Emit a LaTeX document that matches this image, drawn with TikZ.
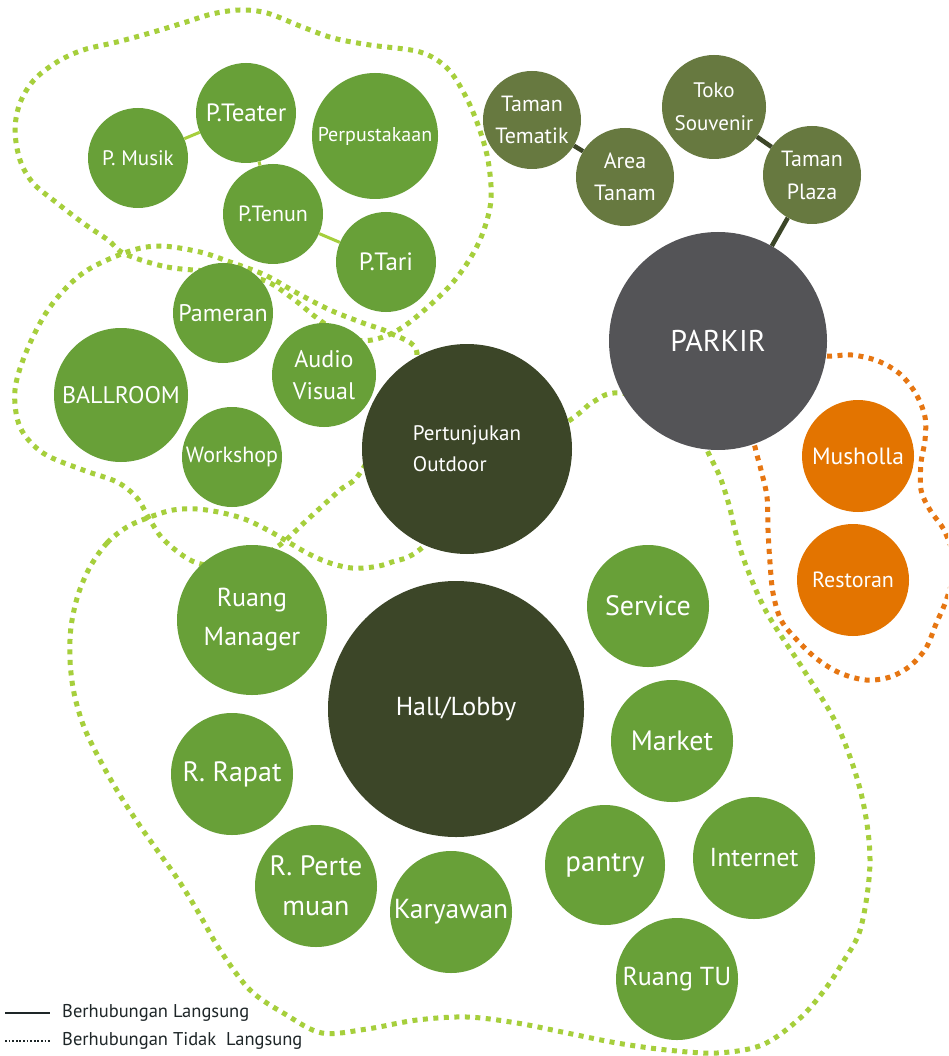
\documentclass[tikz,border=0pt]{standalone}
\usepackage{fontspec}
\setmainfont{PT Sans}
\definecolor{leaf}{RGB}{104,160,56}
\definecolor{forest}{RGB}{60,70,40}
\definecolor{olive}{RGB}{103,121,64}
\definecolor{slate}{RGB}{84,84,87}
\definecolor{amber}{RGB}{227,116,0}
\definecolor{lime}{RGB}{166,207,60}
\definecolor{rust}{RGB}{230,118,18}
\definecolor{ink}{RGB}{30,38,40}
\tikzset{
  room/.style={circle, inner sep=0pt, text=white, align=center},
  leafroom/.style={room, fill=leaf},
  oliveroom/.style={room, fill=olive},
  amberroom/.style={room, fill=amber},
  zone/.style={line width=5pt, dash pattern=on 5pt off 5.5pt, line cap=butt},
  lightlink/.style={draw=lime, line width=3pt},
  darklink/.style={draw=forest, line width=4.5pt},
  legendtext/.style={anchor=west, inner sep=0pt, text=ink, font=\fontsize{18.5}{20}\selectfont},
}
\newcommand\fs[2]{\fontsize{#1}{#2}\selectfont}
\begin{document}
\begin{tikzpicture}[x=1pt, y=-1pt]
\useasboundingbox (0,0) rectangle (948,1056);
\clip (0,0) rectangle (948,1056);
\fill[white] (0,0) rectangle (948,1056);

% --- zone outlines (dotted) ---
% workshop / gallery cluster
\draw[zone, draw=lime] plot[smooth cycle, tension=0.55] coordinates {
  (127,252) (83,273) (50,307) (27,350) (15,390) (20,427) (43,453) (83,470)
  (117,482) (137,498) (150,520) (165,541) (197,563) (240,565) (277,547)
  (307,520) (340,490) (360,473) (395,410) (417,353) (390,333) (363,323)
  (330,310) (297,293) (265,275) (230,262) (200,252) (160,246)};
% art studio cluster
\draw[zone, draw=lime] plot[smooth cycle, tension=0.55] coordinates {
  (125,254) (167,267) (215,272) (263,280) (292,298) (317,318) (345,337)
  (372,340) (403,327) (443,293) (466,265) (482,235) (491,200) (488,160)
  (478,125) (465,95) (447,68) (420,52) (370,45) (333,38) (300,26) (267,13)
  (240,10) (212,14) (183,23) (150,33) (117,42) (83,50) (57,62) (34,80)
  (20,103) (15,130) (20,160) (33,183) (57,203) (83,223) (108,240)};
% main building cluster
\draw[zone, draw=lime] plot[smooth cycle, tension=0.55] coordinates {
  (90,567) (107,543) (127,527) (150,517) (173,510) (197,509) (223,513)
  (247,520) (273,533) (307,553) (330,563) (352,568) (373,567) (392,562)
  (423,547) (500,470) (573,418) (593,402) (620,393) (690,410) (707,450)
  (720,477) (729,505) (735,530) (745,563) (767,613) (805,672) (838,727)
  (861,793) (870,860) (861,927) (843,962) (823,992) (798,1020) (762,1045)
  (717,1053) (667,1050) (617,1043) (567,1033) (517,1023) (467,1017)
  (417,1020) (367,1029) (322,1033) (285,1014) (250,990) (220,950)
  (197,910) (177,878) (157,850) (138,823) (118,792) (100,760) (84,727)
  (74,693) (70,660) (71,627) (78,595)};
% service zone around the parking
\draw[zone, draw=rust] plot[smooth cycle, tension=0.55] coordinates {
  (790,352) (827,356) (852,355) (878,361) (900,374) (916,394) (925,417)
  (925,440) (921,463) (921,490) (930,510) (945,532) (955,565) (947,598)
  (936,624) (926,648) (910,666) (890,677) (866,680) (840,673) (817,659)
  (797,640) (781,620) (773,593) (770,563) (768,530) (767,497) (761,470)
  (755,447) (745,400)};

% --- spaces ---
\node[leafroom, minimum size=100pt, font=\fs{21}{24}] (musik) at (138,158) {P. Musik};
\node[leafroom, minimum size=100pt, font=\fs{25}{28}] (teater) at (246,113) {P.Teater};
\node[leafroom, minimum size=126pt, font=\fs{20}{23}] (perpus) at (375,136) {Perpustakaan};
\node[leafroom, minimum size=100pt, font=\fs{22}{25}] (tenun) at (273,214) {P.Tenun};
\node[leafroom, minimum size=100pt, font=\fs{25}{28}] (tari) at (386,262) {P.Tari};
\node[leafroom, minimum size=100pt, font=\fs{24}{27}] (pameran) at (223,313) {Pameran};
\node[leafroom, minimum size=134pt, font=\fs{24}{27}] (ballroom) at (121,395) {BALLROOM};
\node[leafroom, minimum size=104pt, font=\fs{24}{32}] (audio) at (324,375) {Audio\\Visual};
\node[leafroom, minimum size=100pt, font=\fs{22}{25}] (workshop) at (232,457) {Workshop};
\node[room, fill=forest, minimum size=210pt, align=left, font=\fs{21}{31}] (outdoor) at (467,449) {Pertunjukan\\Outdoor};
\node[room, fill=slate, minimum size=218pt, font=\fs{30}{34}] (parkir) at (718,341) {PARKIR};
\node[oliveroom, minimum size=98pt, font=\fs{22}{32}] (tematik) at (532,120) {Taman\\Tematik};
\node[oliveroom, minimum size=98pt, font=\fs{22}{32}] (tanam) at (625,177) {Area\\Tanam};
\node[oliveroom, minimum size=104pt, font=\fs{21}{33}] (souvenir) at (714,107) {Toko\\Souvenir};
\node[oliveroom, minimum size=98pt, font=\fs{22}{33}] (plaza) at (812,175) {Taman\\Plaza};
\node[amberroom, minimum size=112pt, font=\fs{23.5}{26}] (musholla) at (858,456) {Musholla};
\node[amberroom, minimum size=112pt, font=\fs{22}{26}] (restoran) at (853,580) {Restoran};
\node[leafroom, minimum size=122pt, font=\fs{28}{31}] (service) at (648,606) {Service};
\node[leafroom, minimum size=150pt, font=\fs{26}{39}] (manager) at (252,620) {Ruang\\Manager};
\node[room, fill=forest, minimum size=256pt, font=\fs{26}{29}] (lobby) at (456,709) {Hall/Lobby};
\node[leafroom, minimum size=122pt, font=\fs{28}{31}] (market) at (672,741) {Market};
\node[leafroom, minimum size=122pt, font=\fs{28}{31}] (rapat) at (232,774) {R. Rapat};
\node[leafroom, minimum size=122pt, font=\fs{26}{29}] (internet) at (754,858) {Internet};
\node[leafroom, minimum size=120pt, font=\fs{29}{32}] (pantry) at (605,865) {pantry};
\node[leafroom, minimum size=122pt, font=\fs{28}{40}] (pertemuan) at (316,886) {R. Perte\\muan};
\node[leafroom, minimum size=122pt, font=\fs{27.5}{30}] (karyawan) at (451,912) {Karyawan};
\node[leafroom, minimum size=122pt, font=\fs{26}{29}] (tu) at (677,979) {Ruang TU};

% --- direct links ---
\draw[lightlink] (musik) -- (teater);
\draw[lightlink] (teater) -- (tenun);
\draw[lightlink] (tenun) -- (tari);
\draw[darklink] (tematik) -- (tanam);
\draw[darklink] (souvenir) -- (plaza);
\draw[darklink] (plaza) -- (parkir);

% --- legend ---
\coordinate (solidA) at (5,1013);
\coordinate (solidB) at (50,1013);
\coordinate (dotA) at (5,1041);
\coordinate (dotB) at (50,1041);
\draw[draw=ink, line width=2.5pt] (solidA) -- (solidB);
\draw[draw=ink, line width=1.8pt, dash pattern=on 1.8pt off 1.8pt] (dotA) -- (dotB);
\node[legendtext] (keysolid) at (62,1013) {Berhubungan Langsung};
\node[legendtext] (keydot) at (62,1041) {Berhubungan Tidak\ \ Langsung};
\end{tikzpicture}
\end{document}
